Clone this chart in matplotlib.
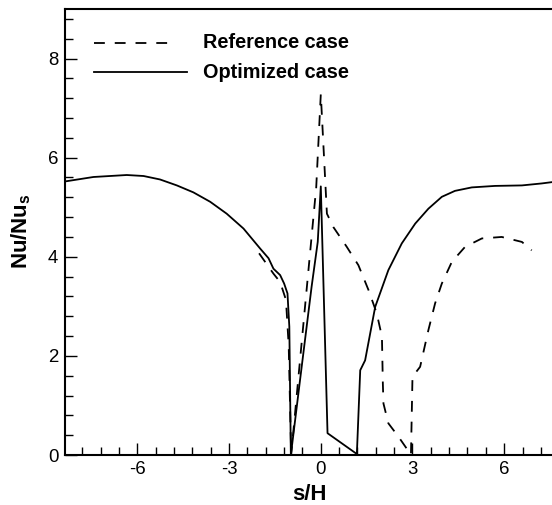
import matplotlib
matplotlib.use("Agg")
import matplotlib.pyplot as plt
from matplotlib.ticker import MultipleLocator
from matplotlib.lines import Line2D

plt.rcParams['font.family'] = ['Liberation Sans', 'DejaVu Sans']
plt.rcParams['mathtext.fontset'] = 'custom'
plt.rcParams['mathtext.rm'] = 'Liberation Sans'
plt.rcParams['mathtext.bf'] = 'Liberation Sans:bold'
plt.rcParams['axes.unicode_minus'] = False

# Optimized case (solid)
opt_x = [-8.37, -7.44, -6.35, -5.80, -5.26, -4.71, -4.17, -3.62, -3.08, -2.53,
         -1.99, -1.71, -1.55, -1.33, -1.20, -1.09, -1.03, -0.98,
         -0.68, -0.30, -0.10, 0.0,
         0.22, 1.18, 1.29, 1.45, 1.78, 2.21, 2.65, 3.09, 3.52, 3.96, 4.39,
         4.94, 5.70, 6.58, 7.23, 7.61]
opt_y = [5.52, 5.61, 5.65, 5.63, 5.56, 5.44, 5.30, 5.11, 4.87, 4.57,
         4.17, 3.97, 3.76, 3.63, 3.46, 3.26, 2.59, 0.0,
         1.51, 3.40, 4.30, 5.42,
         0.44, 0.02, 1.71, 1.91, 2.99, 3.73, 4.27, 4.67, 4.97, 5.21, 5.33,
         5.40, 5.43, 5.44, 5.48, 5.51]

# Reference case (dashed)
ref_x = [-2.02, -1.79, -1.55, -1.33, -1.14, -1.05, -0.97, -0.50, -0.15, 0.0,
         0.20, 0.41, 0.85, 1.23, 1.56, 1.83, 2.00, 2.03, 2.05, 2.21, 2.54, 2.81, 2.95,
         3.0, 3.25, 3.52, 3.74, 3.96, 4.29, 4.72, 5.27, 5.92, 6.58, 6.90]
ref_y = [4.07, 3.87, 3.66, 3.49, 3.13, 2.20, 0.0, 3.10, 5.40, 7.28,
         4.87, 4.60, 4.20, 3.83, 3.33, 2.86, 2.39, 1.45, 1.04, 0.64, 0.37, 0.13, 0.0,
         1.58, 1.78, 2.52, 3.06, 3.46, 3.90, 4.20, 4.37, 4.40, 4.30, 4.13]

legend_labels = ["Reference case", "Optimized case"]
x_label = "s/H"
y_label = r"$\mathbf{Nu/Nu_s}$"

W, H = 552, 505
fig = plt.figure(figsize=(W / 100, H / 100), dpi=100)
ax = fig.add_axes([65.3 / W, 50 / H, 511 / W, 446 / H])

LW = 1.3
dash = (6, 5.5)
ax.plot(ref_x, ref_y, color='black', lw=LW, linestyle=(0, dash))
ax.plot(opt_x, opt_y, color='black', lw=LW)

ax.set_xlim(-8.36, 8.36)
ax.set_ylim(0, 9)

ax.xaxis.set_major_locator(MultipleLocator(3))
ax.xaxis.set_minor_locator(MultipleLocator(0.6))
ax.yaxis.set_major_locator(MultipleLocator(2))
ax.yaxis.set_minor_locator(MultipleLocator(0.4))

ax.tick_params(which='both', direction='in', top=False, right=False, width=1.0,
               labelsize=13.4)
ax.tick_params(which='major', length=8.4)
ax.tick_params(which='minor', length=5.5)
ax.tick_params(axis='y', pad=5)
ax.tick_params(axis='x', pad=4)
for s in ax.spines.values():
    s.set_linewidth(1.5)

# helper: pixel (from top-left) -> figure fraction
def fx(px):
    return px / W

def fy(py):
    return (H - py) / H

fig.text(fx(309.5), fy(495), x_label, fontsize=16, fontweight='bold',
         ha='center', va='center')
fig.text(fx(21.5), fy(231), y_label, fontsize=16, rotation=90,
         ha='center', va='center')

# legend drawn manually at its reference position
fig.add_artist(Line2D([fx(94.2), fx(176.5)], [fy(42.7), fy(42.7)],
                      color='black', lw=LW, linestyle=(0, dash)))
fig.add_artist(Line2D([fx(94.2), fx(186.7)], [fy(72.3), fy(72.3)],
                      color='black', lw=LW))
fig.text(fx(202.7), fy(42.7), legend_labels[0], fontsize=14.3,
         fontweight='bold', ha='left', va='center')
fig.text(fx(202.7), fy(72.3), legend_labels[1], fontsize=14.3,
         fontweight='bold', ha='left', va='center')

fig.savefig("out.png", dpi=100)
